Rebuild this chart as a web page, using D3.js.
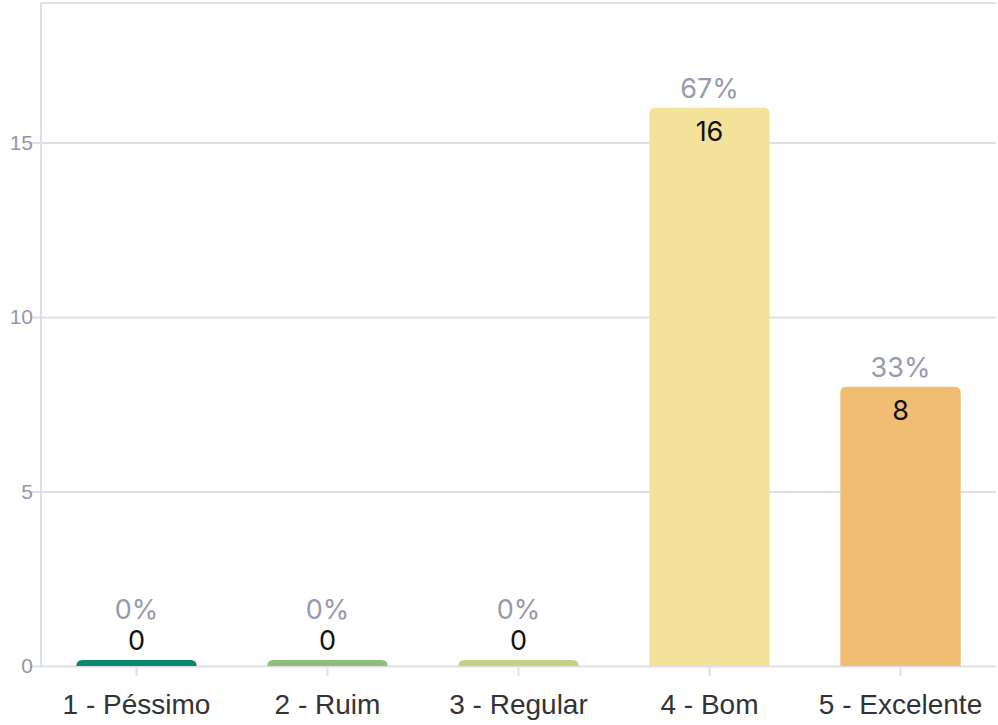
<!DOCTYPE html>
<html>
<head>
<meta charset="utf-8">
<script src="https://cdn.jsdelivr.net/npm/d3@7"></script>
<style>
  html, body { margin: 0; padding: 0; background: #fff; }
  svg { display: block; font-family: Inter, "Open Sans", sans-serif; }
</style>
</head>
<body>
<svg id="chart"></svg>
<script>
// Data
const categories = ["1 - Péssimo", "2 - Ruim", "3 - Regular", "4 - Bom", "5 - Excelente"];
const counts = [0, 0, 0, 16, 8];
const percents = ["0%", "0%", "0%", "67%", "33%"];
const barColors = ["#0a8a6a", "#8dbf7a", "#c5d185", "#f5e29a", "#f0bd72"];
const yTicks = [0, 5, 10, 15];

const width = 998, height = 725;
const margin = { top: 3, right: 2, bottom: 59, left: 41 };
const innerW = width - margin.left - margin.right;
const innerH = height - margin.top - margin.bottom;

const svg = d3.select("#chart").attr("width", width).attr("height", height);
const g = svg.append("g").attr("transform", `translate(${margin.left},${margin.top})`);

const x = d3.scaleBand().domain(categories).range([0, innerW]).paddingInner(0.37).paddingOuter(0.185);
const y = d3.scaleLinear().domain([0, 19]).range([innerH, 0]);

const gridColor = "#dfdfea";

// horizontal gridlines + y ticks
g.append("g")
  .call(d3.axisLeft(y).tickValues(yTicks).tickSize(-innerW).tickPadding(8))
  .call(ax => {
    ax.select(".domain").remove();
    ax.selectAll("line").attr("stroke", gridColor).attr("stroke-width", 2).attr("x1", -11);
    ax.selectAll("text").attr("fill", "#9595ad").style("font-size", "21px");
  });

// top frame line and left axis line
g.append("line").attr("x1", 0).attr("x2", innerW).attr("y1", y(19)).attr("y2", y(19))
  .attr("stroke", gridColor).attr("stroke-width", 2);
g.append("line").attr("x1", 0).attr("x2", 0).attr("y1", y(19)).attr("y2", innerH)
  .attr("stroke", gridColor).attr("stroke-width", 2);

// x axis
g.append("g")
  .attr("transform", `translate(0,${innerH})`)
  .call(d3.axisBottom(x).tickSize(10).tickPadding(14))
  .call(ax => {
    ax.select(".domain").remove();
    ax.selectAll("line").attr("stroke", gridColor).attr("stroke-width", 2);
    ax.selectAll("text").attr("fill", "#333").style("font-size", "28px").attr("dy", "0.85em");
  });

// bars (minimum visible height for zero values)
const minH = 6;
const rows = categories.map((c, i) => ({ c, v: counts[i], p: percents[i], col: barColors[i] }));

const barTop = d => Math.min(y(d.v), innerH - minH);
const r = 6;
g.selectAll(".bar").data(rows).enter().append("path")
  .attr("class", "bar")
  .attr("fill", d => d.col)
  .attr("d", d => {
    const x0 = x(d.c), w = x.bandwidth(), t = barTop(d), b = innerH;
    const rr = Math.min(r, (b - t));
    return `M${x0},${b}V${t + rr}Q${x0},${t} ${x0 + rr},${t}H${x0 + w - rr}Q${x0 + w},${t} ${x0 + w},${t + rr}V${b}Z`;
  });

// value labels
g.selectAll(".cnt").data(rows).enter().append("text")
  .attr("x", d => x(d.c) + x.bandwidth() / 2)
  .attr("y", d => d.v > 0 ? y(d.v) + 33 : barTop(d) - 10)
  .attr("text-anchor", "middle")
  .attr("fill", "#111")
  .style("font-size", "27px")
  .text(d => d.v);

g.selectAll(".pct").data(rows).enter().append("text")
  .attr("x", d => x(d.c) + x.bandwidth() / 2)
  .attr("y", d => d.v > 0 ? y(d.v) - 10 : barTop(d) - 41)
  .attr("text-anchor", "middle")
  .attr("fill", "#9898ae")
  .style("font-size", "27px")
  .text(d => d.p);
</script>
</body>
</html>
